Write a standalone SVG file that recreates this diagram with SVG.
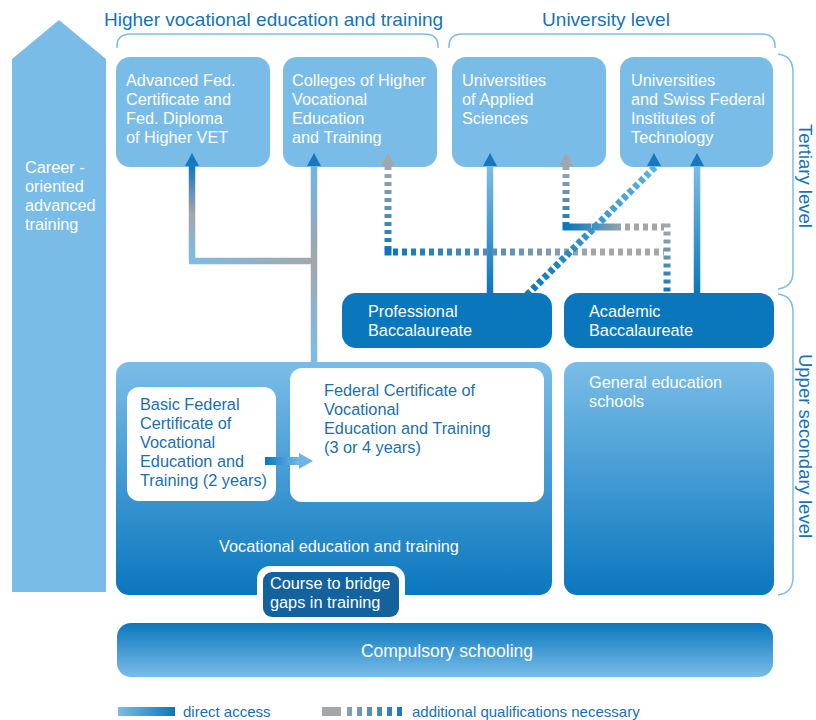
<svg xmlns="http://www.w3.org/2000/svg" width="816" height="720" viewBox="0 0 816 720">
<defs>
<style>
text{font-family:"Liberation Sans",Arial,sans-serif}
.hdr{font-size:19px;fill:#1474ba}
.vt{font-size:18.5px;fill:#1474ba}
.wt{font-size:16.3px;fill:#ffffff}
.bt{font-size:16.3px;fill:#1a6fb0}
.lbox{fill:#79bce8}
.dbox{fill:#0a77bd}
.brace{fill:none;stroke:#7bbde8;stroke-width:1.5}
.sol{fill:none;stroke-width:6.5}
.dot{fill:none;stroke-width:7;stroke-dasharray:4 4}
.doth{fill:none;stroke-width:7;stroke-dasharray:5 4}
.ah{fill:#1479bf}
.ahg{fill:#a3a7aa}
.leg{font-size:15px;fill:#1a6fb0}
</style>
<linearGradient id="gUp" x1="0" y1="0" x2="0" y2="1"><stop offset="0" stop-color="#7bbde8"/><stop offset="1" stop-color="#0a77bd"/></linearGradient>
<linearGradient id="gDown" x1="0" y1="0" x2="0" y2="1"><stop offset="0" stop-color="#0a77bd"/><stop offset="1" stop-color="#7bbde8"/></linearGradient>
<linearGradient id="gLeg" x1="0" y1="0" x2="1" y2="0"><stop offset="0" stop-color="#7bbde8"/><stop offset="1" stop-color="#0a77bd"/></linearGradient>
<linearGradient id="gLeg2" gradientUnits="userSpaceOnUse" x1="322" y1="0" x2="407" y2="0"><stop offset="0" stop-color="#a3a7aa"/><stop offset="0.3" stop-color="#8aa0b0"/><stop offset="1" stop-color="#0a77bd"/></linearGradient>
<linearGradient id="gArr" x1="0" y1="0" x2="1" y2="0"><stop offset="0" stop-color="#0a77bd"/><stop offset="1" stop-color="#7bbde8"/></linearGradient>
<linearGradient id="gA" gradientUnits="userSpaceOnUse" x1="0" y1="167" x2="0" y2="261"><stop offset="0" stop-color="#1479bf"/><stop offset="0.5" stop-color="#a3a7aa"/><stop offset="1" stop-color="#7bbde8"/></linearGradient>
<linearGradient id="gAh" gradientUnits="userSpaceOnUse" x1="189" y1="0" x2="314" y2="0"><stop offset="0" stop-color="#7bbde8"/><stop offset="1" stop-color="#a3a7aa"/></linearGradient>
<linearGradient id="gB" gradientUnits="userSpaceOnUse" x1="0" y1="167" x2="0" y2="362"><stop offset="0" stop-color="#6fb5e3"/><stop offset="0.48" stop-color="#a3a7aa"/><stop offset="1" stop-color="#7bbde8"/></linearGradient>
<linearGradient id="gD" gradientUnits="userSpaceOnUse" x1="0" y1="167" x2="0" y2="293"><stop offset="0" stop-color="#7bbde8"/><stop offset="1" stop-color="#0a77bd"/></linearGradient>
<linearGradient id="gC1" gradientUnits="userSpaceOnUse" x1="0" y1="167" x2="0" y2="255"><stop offset="0" stop-color="#a3a7aa"/><stop offset="1" stop-color="#0a77bd"/></linearGradient>
<linearGradient id="gC2" gradientUnits="userSpaceOnUse" x1="388" y1="0" x2="667" y2="0"><stop offset="0" stop-color="#0a77bd"/><stop offset="0.75" stop-color="#a3a7aa"/><stop offset="1" stop-color="#a3a7aa"/></linearGradient>
<linearGradient id="gC3" gradientUnits="userSpaceOnUse" x1="0" y1="227" x2="0" y2="293"><stop offset="0" stop-color="#a3a7aa"/><stop offset="1" stop-color="#0a77bd"/></linearGradient>
<linearGradient id="gE1" gradientUnits="userSpaceOnUse" x1="0" y1="167" x2="0" y2="230"><stop offset="0" stop-color="#a3a7aa"/><stop offset="1" stop-color="#0a77bd"/></linearGradient>
<linearGradient id="gE2" gradientUnits="userSpaceOnUse" x1="566" y1="0" x2="667" y2="0"><stop offset="0" stop-color="#0a77bd"/><stop offset="0.6" stop-color="#a3a7aa"/><stop offset="1" stop-color="#a3a7aa"/></linearGradient>
<linearGradient id="gDiag" gradientUnits="userSpaceOnUse" x1="527" y1="295" x2="656" y2="166"><stop offset="0" stop-color="#0a77bd"/><stop offset="1" stop-color="#5fb0e3"/></linearGradient>
</defs>
<rect width="816" height="720" fill="#ffffff"/>

<g id="headers">
<text class="hdr" x="104" y="26">Higher vocational education and training</text>
<text class="hdr" x="606" y="26" text-anchor="middle">University level</text>
<path class="brace" d="M117,48 V46 Q117,34 131,34 H424 Q438,34 438,46 V48"/>
<path class="brace" d="M449,48 V46 Q449,34 463,34 H761 Q775,34 775,46 V48"/>
<path class="brace" d="M778,54 Q793,56 793,72 V272 Q793,287 778,289"/>
<path class="brace" d="M778,294 Q793,296 793,312 V577 Q793,593 778,595"/>
<text class="vt" transform="translate(799,176) rotate(90)" text-anchor="middle">Tertiary level</text>
<text class="vt" transform="translate(799,446) rotate(90)" text-anchor="middle">Upper secondary level</text>
</g>

<g id="career">
<polygon class="lbox" points="12,59 59,20 106,59 106,592 12,592"/>
<text class="wt"><tspan x="25" y="173">Career -</tspan><tspan x="25" y="192">oriented</tspan><tspan x="25" y="211">advanced</tspan><tspan x="25" y="230">training</tspan></text>
</g>

<g id="advanced-fed">
<rect class="lbox" x="116" y="57" width="154" height="110" rx="14"/>
<text class="wt"><tspan x="126" y="86">Advanced Fed.</tspan><tspan x="126" y="105">Certificate and</tspan><tspan x="126" y="124">Fed. Diploma</tspan><tspan x="126" y="143">of Higher VET</tspan></text>
</g>
<g id="colleges">
<rect class="lbox" x="283" y="57" width="154" height="110" rx="14"/>
<text class="wt"><tspan x="292" y="86">Colleges of Higher</tspan><tspan x="292" y="105">Vocational</tspan><tspan x="292" y="124">Education</tspan><tspan x="292" y="143">and Training</tspan></text>
</g>
<g id="uas">
<rect class="lbox" x="452" y="57" width="154" height="110" rx="14"/>
<text class="wt"><tspan x="462" y="86">Universities</tspan><tspan x="462" y="105">of Applied</tspan><tspan x="462" y="124">Sciences</tspan></text>
</g>
<g id="universities">
<rect class="lbox" x="620" y="57" width="153" height="110" rx="14"/>
<text class="wt"><tspan x="631" y="86">Universities</tspan><tspan x="631" y="105">and Swiss Federal</tspan><tspan x="631" y="124">Institutes of</tspan><tspan x="631" y="143">Technology</tspan></text>
</g>

<g id="prof-bacc">
<rect class="dbox" x="342" y="293" width="210" height="55" rx="14"/>
<text class="wt"><tspan x="368" y="317">Professional</tspan><tspan x="368" y="336">Baccalaureate</tspan></text>
</g>
<g id="acad-bacc">
<rect class="dbox" x="564" y="293" width="210" height="55" rx="14"/>
<text class="wt"><tspan x="589" y="317">Academic</tspan><tspan x="589" y="336">Baccalaureate</tspan></text>
</g>

<g id="vet">
<rect x="116" y="362" width="436" height="233" rx="13" fill="url(#gUp)"/>
<text class="wt" x="339" y="552" text-anchor="middle">Vocational education and training</text>
</g>
<g id="basic-fed">
<rect x="127" y="387" width="149" height="114" rx="12" fill="#ffffff"/>
<text class="bt"><tspan x="140" y="410">Basic Federal</tspan><tspan x="140" y="429">Certificate of</tspan><tspan x="140" y="448">Vocational</tspan><tspan x="140" y="467">Education and</tspan><tspan x="140" y="486">Training (2 years)</tspan></text>
</g>
<g id="fed-cert">
<rect x="290" y="368" width="254" height="134" rx="12" fill="#ffffff"/>
<text class="bt"><tspan x="324" y="396">Federal Certificate of</tspan><tspan x="324" y="415">Vocational</tspan><tspan x="324" y="434">Education and Training</tspan><tspan x="324" y="453">(3 or 4 years)</tspan></text>
</g>
<g id="bridge">
<rect x="257" y="566" width="148" height="55" rx="13" fill="#ffffff"/>
<rect x="263" y="572" width="136" height="45" rx="9" fill="#13629d"/>
<text class="wt"><tspan x="270" y="589">Course to bridge</tspan><tspan x="270" y="608">gaps in training</tspan></text>
</g>
<g id="general">
<rect x="564" y="362" width="210" height="233" rx="13" fill="url(#gUp)"/>
<text class="wt"><tspan x="589" y="388">General education</tspan><tspan x="589" y="407">schools</tspan></text>
</g>
<g id="compulsory">
<rect x="117" y="623" width="656" height="54" rx="14" fill="url(#gDown)"/>
<text class="wt" x="447" y="657" text-anchor="middle" style="font-size:17.5px">Compulsory schooling</text>
</g>

<g id="connectors">
<path class="sol" stroke="url(#gA)" d="M192,166 V261"/>
<path class="sol" stroke="url(#gAh)" d="M189,261 H317"/>
<path class="sol" stroke="url(#gB)" d="M314,166 V362"/>
<path class="sol" stroke="url(#gD)" d="M490,166 V293"/>
<path class="sol" stroke="url(#gD)" d="M697,166 V293"/>
<path class="dot" stroke="url(#gC1)" d="M388,166 V249"/>
<rect x="384.5" y="248.5" width="7" height="7" fill="#0a77bd"/>
<path class="doth" stroke="url(#gC2)" d="M393,252 H664"/>
<path class="dot" stroke="url(#gC3)" d="M667,223.5 V293"/>
<path class="dot" stroke="url(#gE1)" d="M566,166 V224"/>
<path class="doth" stroke="url(#gE2)" d="M562.5,227 H592 M592,227 H664" style="stroke-dasharray:29 4 5 4 5 4 5 4 5 4 5 4 5 4 5 4 5 4 5 4"/>
<path class="dot" stroke="url(#gDiag)" d="M527,295 L656,166" style="stroke-dasharray:5 3"/>
<polygon class="ah" points="192,153 185,166 199,166"/>
<polygon class="ah" points="314,153 307,166 321,166"/>
<polygon class="ahg" points="388,153 381,166 395,166"/>
<polygon class="ah" points="490,153 483,166 497,166"/>
<polygon class="ahg" points="566,153 559,166 573,166"/>
<polygon class="ah" points="654,153 647,166 661,166"/>
<polygon class="ah" points="697,153 690,166 704,166"/>
<rect x="265" y="457" width="36" height="8" fill="url(#gArr)"/>
<polygon points="299,453 313,461 299,469" fill="#6cb5e4"/>
</g>

<g id="legend">
<rect x="118" y="707" width="57" height="9" fill="url(#gLeg)"/>
<text class="leg" x="183" y="717">direct access</text>
<rect x="322" y="707" width="19" height="9" fill="#a3a7aa"/>
<path d="M347,711.5 H407" stroke="url(#gLeg2)" stroke-width="9" stroke-dasharray="5 5" fill="none"/>
<text class="leg" x="412" y="717">additional qualifications necessary</text>
</g>
</svg>
